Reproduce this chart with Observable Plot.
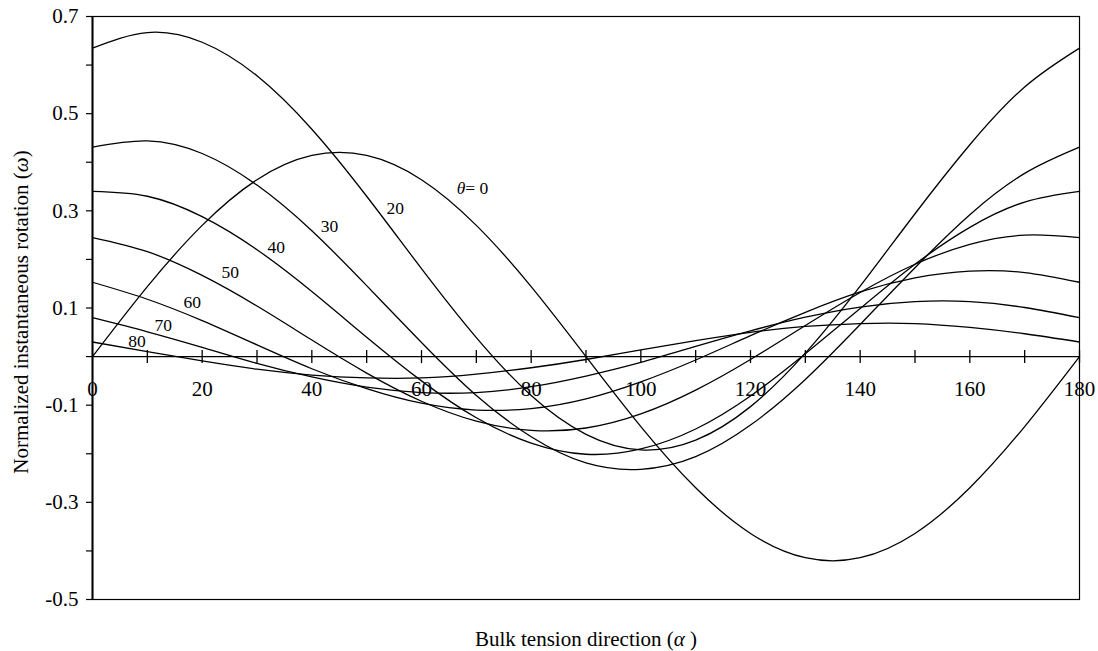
<!DOCTYPE html>
<html>
<head>
<meta charset="utf-8">
<script src="https://cdn.jsdelivr.net/npm/d3@7"></script>
<script src="https://cdn.jsdelivr.net/npm/@observablehq/plot@0.6"></script>
<style>
  html, body { margin: 0; padding: 0; background: #fff; }
  #chart { width: 1098px; height: 651px; }
</style>
</head>
<body>
<div id="chart"></div>
<script>
// ---- data ----
const alpha = [0, 10, 20, 30, 40, 50, 60, 70, 80, 90, 100, 110, 120, 130, 140, 150, 160, 170, 180];
const thetas = [0, 20, 30, 40, 50, 60, 70, 80];
const omega0  = [0, 0.144, 0.270, 0.364, 0.414, 0.414, 0.364, 0.270, 0.144, 0, -0.144, -0.270, -0.364, -0.414, -0.414, -0.364, -0.270, -0.144, 0];
const omega20 = [0.635, 0.667, 0.647, 0.578, 0.468, 0.330, 0.181, 0.039, -0.080, -0.160, -0.192, -0.172, -0.103, 0.007, 0.145, 0.294, 0.436, 0.555, 0.635];
const omega30 = [0.431, 0.444, 0.418, 0.353, 0.259, 0.146, 0.029, -0.080, -0.165, -0.219, -0.232, -0.206, -0.141, -0.047, 0.066, 0.183, 0.292, 0.377, 0.431];
const omega40 = [0.340, 0.330, 0.288, 0.220, 0.134, 0.040, -0.050, -0.126, -0.178, -0.201, -0.190, -0.149, -0.081, 0.006, 0.099, 0.190, 0.266, 0.318, 0.340];
const omega50 = [0.245, 0.216, 0.167, 0.104, 0.034, -0.034, -0.092, -0.133, -0.152, -0.147, -0.118, -0.069, -0.006, 0.064, 0.132, 0.190, 0.231, 0.250, 0.245];
const omega60 = [0.153, 0.118, 0.074, 0.024, -0.025, -0.066, -0.096, -0.110, -0.107, -0.087, -0.052, -0.007, 0.043, 0.091, 0.133, 0.162, 0.176, 0.173, 0.153];
const omega70 = [0.080, 0.051, 0.019, -0.014, -0.042, -0.063, -0.074, -0.074, -0.062, -0.040, -0.012, 0.021, 0.053, 0.081, 0.102, 0.113, 0.113, 0.101, 0.080];
const omega80 = [0.030, 0.010, -0.009, -0.026, -0.038, -0.044, -0.044, -0.036, -0.023, -0.006, 0.014, 0.033, 0.050, 0.062, 0.068, 0.068, 0.060, 0.047, 0.030];

// curve labels (annotation anchors in data units)
const curveLabels = ["θ= 0", "20", "30", "40", "50", "60", "70", "80"];
const labelAlpha  = [69.3, 55.2, 43.2, 33.5, 25.1, 18.2, 12.9, 8.1];
const labelOmega  = [0.347, 0.304, 0.267, 0.224, 0.173, 0.111, 0.064, 0.031];

// axes
const xTicks = [10, 20, 30, 40, 50, 60, 70, 80, 90, 100, 110, 120, 130, 140, 150, 160, 170, 180];
const xTickLabels = [0, 20, 40, 60, 80, 100, 120, 140, 160, 180];
const yTicks = [-0.5, -0.4, -0.3, -0.2, -0.1, 0, 0.1, 0.2, 0.3, 0.4, 0.5, 0.6, 0.7];
const yTickLabels = ["-0.5", "", "-0.3", "", "-0.1", "", "0.1", "", "0.3", "", "0.5", "", "0.7"];
const xTitle = "Bulk tension direction (α )";
const yTitle = "Normalized instantaneous rotation (ω)";

// ---- build table ----
const series = [omega0, omega20, omega30, omega40, omega50, omega60, omega70, omega80];
const rows = [];
thetas.forEach((t, k) => alpha.forEach((a, i) => rows.push({theta: t, alpha: a, omega: series[k][i]})));
const labels = curveLabels.map((s, i) => ({text: s, alpha: labelAlpha[i], omega: labelOmega[i]}));

const vline = {
  draw(ctx, size) {
    const h = Math.sqrt(size / Math.PI);
    ctx.moveTo(0, -h);
    ctx.lineTo(0, h);
  }
};
const yLabelOf = d => {
  const i = yTicks.findIndex(v => Math.abs(v - d) < 1e-9);
  return i >= 0 ? yTickLabels[i] : "";
};

const font = "'Liberation Serif', 'Times New Roman', Times, serif";

const chart = Plot.plot({
  width: 1098,
  height: 651,
  marginLeft: 92,
  marginRight: 19,
  marginTop: 16,
  marginBottom: 52,
  style: {fontFamily: font, fontSize: "21px", background: "#fff", color: "#000"},
  x: {domain: [0, 180], axis: null},
  y: {domain: [-0.5, 0.7], axis: null},
  marks: [
    Plot.frame({stroke: "#000", strokeWidth: 1.2}),
    Plot.axisY(yTicks, {tickSize: 6, tickPadding: 8, tickFormat: yLabelOf, fontSize: 21, stroke: "#000", strokeWidth: 1.2, label: null}),
    Plot.ruleX([0], {stroke: "#000", strokeWidth: 2}),
    Plot.ruleY([0], {stroke: "#000", strokeWidth: 1.3}),
    Plot.dot(xTicks, {x: d => d, y: () => 0, symbol: vline, r: 6.5, stroke: "#000", strokeWidth: 1.3, fill: "none"}),
    Plot.text(xTickLabels, {x: d => d, y: () => 0, dy: 33, text: d => String(d), fontSize: 21, lineAnchor: "middle", fill: "#000"}),
    Plot.line(rows, {x: "alpha", y: "omega", z: "theta", stroke: "#000", strokeWidth: 1.3, curve: "natural"}),
    Plot.text(labels, {x: "alpha", y: "omega", text: "text", fontSize: 17.5, lineAnchor: "middle", fill: "#000"}),
    Plot.text([xTitle], {frameAnchor: "bottom", dy: 40, text: d => d, fontSize: 21, textAnchor: "middle", lineAnchor: "middle", fill: "#000"}),
    Plot.text([yTitle], {frameAnchor: "left", dx: -71.5, dy: 4, rotate: -90, text: d => d, fontSize: 21, textAnchor: "middle", lineAnchor: "middle", fill: "#000"})
  ]
});
document.getElementById("chart").appendChild(chart);

// italic Greek letters, as in the reference
chart.querySelectorAll("text").forEach(t => {
  const s = t.textContent;
  if (/[θαω]/.test(s) && t.children.length === 0) {
    t.innerHTML = s.replace(/([θαω])/g, '<tspan font-style="italic">$1</tspan>');
  }
});
</script>
</body>
</html>
